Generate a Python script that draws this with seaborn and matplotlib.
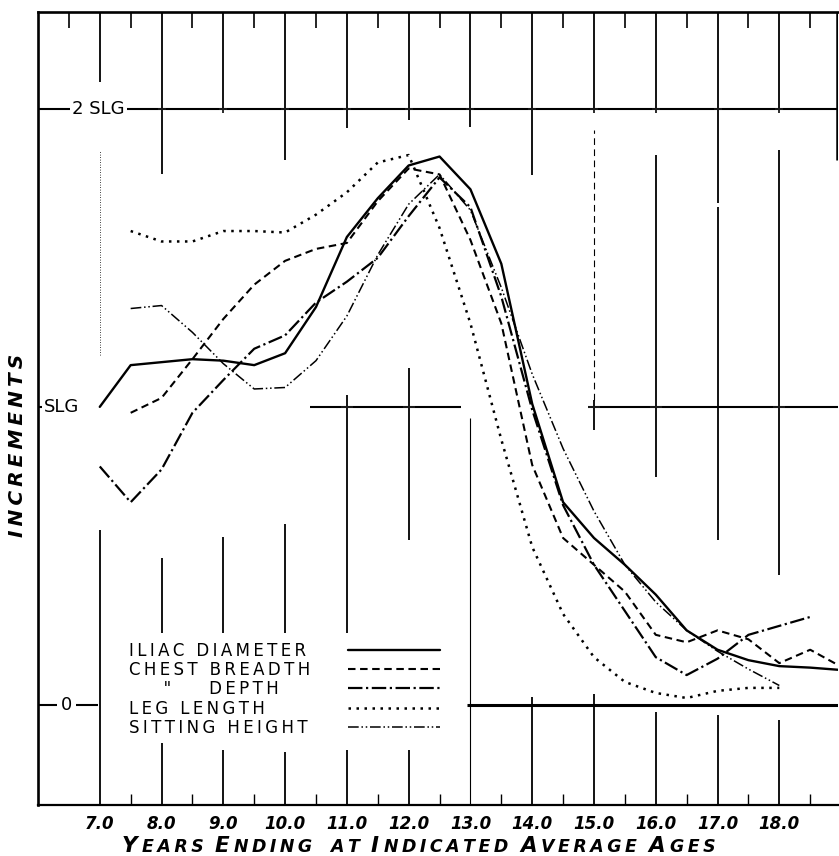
import pandas as pd
import matplotlib
matplotlib.use("Agg")
import matplotlib.pyplot as plt
import seaborn as sns
from matplotlib.offsetbox import TextArea, HPacker, AnnotationBbox

# half-year points (age at end of year), increments in SLG units
AGES = [7.0, 7.5, 8.0, 8.5, 9.0, 9.5, 10.0, 10.5, 11.0, 11.5, 12.0, 12.5, 13.0,
        13.5, 14.0, 14.5, 15.0, 15.5, 16.0, 16.5, 17.0, 17.5, 18.0, 18.5, 19.0]

ILIAC = [1.00, 1.14, 1.15, 1.16, 1.155, 1.14, 1.18, 1.335, 1.57, 1.70, 1.81, 1.84, 1.73,
         1.48, 1.01, 0.68, 0.56, 0.47, 0.37, 0.25, 0.185, 0.15, 0.13, 0.125, 0.117]
CHEST_BREADTH = [None, 0.98, 1.03, 1.16, 1.295, 1.41, 1.49, 1.53, 1.55, 1.69, 1.80, 1.78, 1.56,
                 1.28, 0.805, 0.56, 0.47, 0.38, 0.235, 0.21, 0.25, 0.22, 0.14, 0.185, 0.128]
CHEST_DEPTH = [0.80, 0.68, 0.79, 0.98, 1.09, 1.195, 1.24, 1.35, 1.42, 1.50, 1.64, 1.77, 1.67,
               1.37, 0.99, 0.67, 0.47, 0.315, 0.16, 0.10, 0.155, 0.235, 0.265, 0.295, None]
LEG_LENGTH = [None, 1.59, 1.555, 1.555, 1.59, 1.59, 1.585, 1.645, 1.72, 1.82, 1.845, 1.60, 1.28,
              0.89, 0.53, 0.305, 0.16, 0.077, 0.04, 0.023, 0.047, 0.057, 0.057, None, None]
SITTING_HEIGHT = [None, 1.33, 1.34, 1.25, 1.145, 1.06, 1.065, 1.155, 1.305, 1.51, 1.68, 1.78, 1.66,
                  1.40, 1.11, 0.86, 0.65, 0.47, 0.345, 0.25, 0.18, 0.12, 0.065, None, None]

MEASURES = ["ILIAC DIAMETER", "CHEST BREADTH", "CHEST DEPTH", "LEG LENGTH", "SITTING HEIGHT"]
LEGEND_LABELS = ["ILIAC DIAMETER", "CHEST BREADTH", '    "    DEPTH', "LEG LENGTH", "SITTING HEIGHT"]
YEAR_TICKS = [7, 8, 9, 10, 11, 12, 13, 14, 15, 16, 17, 18]
YEAR_LABELS = ["7.0", "8.0", "9.0", "10.0", "11.0", "12.0", "13.0", "14.0", "15.0", "16.0", "17.0", "18.0"]
XLABEL_WORDS = ["YEARS", "ENDING", "AT", "INDICATED", "AVERAGE", "AGES"]

DASHES = {
    "ILIAC DIAMETER": "",
    "CHEST BREADTH": (3.6, 2.2),
    "CHEST DEPTH": (6.5, 1.6, 1.0, 1.6),
    "LEG LENGTH": (1.0, 2.2),
    "SITTING HEIGHT": (7, 1.8, 1, 1.8, 1, 1.8),
}
WIDTHS = {"ILIAC DIAMETER": 1.7, "CHEST BREADTH": 1.5, "CHEST DEPTH": 1.6,
          "LEG LENGTH": 1.8, "SITTING HEIGHT": 1.1}

XMIN, XMAX = 6.0, 18.95
YMIN, YMAX = -0.336, 2.325
THIN = "\u2009"


def spaced(s):
    return THIN.join(s)


def build_frame():
    rows = []
    series = [ILIAC, CHEST_BREADTH, CHEST_DEPTH, LEG_LENGTH, SITTING_HEIGHT]
    for name, vals in zip(MEASURES, series):
        for age, v in zip(AGES, vals):
            if v is not None:
                rows.append((name, age, v))
    return pd.DataFrame(rows, columns=["measure", "age", "increment"])


def draw_grid(ax):
    k = dict(color="black", lw=1.3, zorder=1)
    # partial verticals at each year (scanned drafting grid)
    vsegs = {
        7: [(2.09, YMAX), (YMIN, 0.587)],
        8: [(1.782, YMAX), (0.242, 0.493), (YMIN, -0.128)],
        9: [(1.997, YMAX), (0.242, 0.564), (YMIN, -0.151)],
        10: [(1.829, YMAX), (0.242, 0.607), (YMIN, -0.158)],
        11: [(1.936, YMAX), (0.242, 1.04), (YMIN, -0.151)],
        12: [(1.963, YMAX), (0.554, 1.131), (YMIN, -0.151)],
        13: [(1.94, YMAX)],
        14: [(1.779, YMAX), (YMIN, 0.027)],
        15: [(1.997, YMAX), (0.923, 1.023), (YMIN, 0.037)],
        16: [(1.997, YMAX), (0.765, 1.846), (YMIN, -0.023)],
        17: [(1.685, YMAX), (0.554, 1.671), (YMIN, -0.034)],
        18: [(1.997, YMAX), (0.436, 1.862), (YMIN, -0.05)],
    }
    for yr, segs in vsegs.items():
        for y0, y1 in segs:
            ax.vlines(yr, y0, y1, **k)
    ax.vlines(13, YMIN, 0.963, color="black", lw=0.8, zorder=1)
    ax.vlines(15, 1.023, 1.93, color="black", lw=0.8, linestyles=[(0, (6, 4))], zorder=1)
    ax.vlines(7, 1.174, 1.862, color="black", lw=0.6, linestyles=[(0, (1, 2))], zorder=1)
    ax.vlines(XMAX - 0.01, 1.829, YMAX, color="black", lw=1.8, zorder=1)

    # half-year ticks top and bottom
    halves = [6.5 + i for i in range(13)]
    ax.vlines(halves, 2.272, YMAX, color="black", lw=1.2)
    ax.vlines(halves[1:], YMIN, -0.30, color="black", lw=1.0)

    # horizontal reference lines
    ax.hlines(2.0, XMIN, XMAX, color="black", lw=1.5, zorder=1)
    ax.hlines([1.0] * 3, [XMIN, 10.4, 14.9], [6.15, 12.85, XMAX], color="black", lw=1.5, zorder=1)
    ax.hlines([0.0] * 2, [XMIN, 6.62], [6.3, 6.97], color="black", lw=1.5, zorder=1)
    ax.hlines(0.0, 12.95, XMAX, color="black", lw=2.2, zorder=1)
    ax.plot([8, 9, 10, 11, 12, 13, 14, 15, 16, 17, 18], [2.0] * 11, "k+", ms=6, mew=1.3)
    ax.plot([11, 12, 15, 16, 18], [1.0] * 5, "k+", ms=9, mew=1.4)

    lab = dict(fontsize=13, color="black", va="center", zorder=3,
               bbox=dict(facecolor="white", edgecolor="none", pad=1.5))
    ax.text(6.98, 2.0, "2 SLG", ha="center", **lab)
    ax.text(6.1, 1.0, "SLG", ha="left", **lab)
    ax.text(6.46, 0.0, "0", ha="center", **lab)


def main():
    sns.set_theme(style="white", rc={"axes.edgecolor": "black", "text.color": "black",
                                     "xtick.color": "black", "axes.labelcolor": "black"})
    plt.rcParams["font.family"] = ["DejaVu Sans"]

    df = build_frame()
    fig = plt.figure(figsize=(8.39, 8.56), dpi=100)
    ax = fig.add_axes([38 / 839, 51 / 856, 800 / 839, 793 / 856])

    sns.lineplot(data=df, x="age", y="increment", hue="measure", style="measure", size="measure",
                 hue_order=MEASURES, style_order=MEASURES, size_order=MEASURES,
                 palette={m: "black" for m in MEASURES}, dashes=DASHES, sizes=WIDTHS,
                 estimator=None, ax=ax, zorder=2)

    draw_grid(ax)

    ax.set_xlim(XMIN, XMAX)
    ax.set_ylim(YMIN, YMAX)
    ax.set_xticks(YEAR_TICKS)
    ax.set_xticklabels(YEAR_LABELS, fontsize=12, fontweight="bold", fontstyle="italic")
    ax.tick_params(axis="x", length=0, pad=7)
    ax.set_yticks([])
    ax.set_xlabel("")
    ax.set_ylabel("")
    ax.spines["right"].set_visible(False)
    ax.spines["left"].set_linewidth(1.9)
    ax.spines["top"].set_linewidth(1.9)
    ax.spines["bottom"].set_linewidth(1.6)

    # legend: names left-aligned, line samples in a column to their right
    handles, labels = ax.get_legend_handles_labels()
    hmap = dict(zip(labels, handles))
    hs = [hmap[m] for m in MEASURES]
    leg_kw = dict(loc="upper left", frameon=False, fontsize=12, labelspacing=0.08,
                  borderpad=0, borderaxespad=0, handletextpad=0)
    ax.get_legend().remove()
    names = ax.legend(hs, [spaced(s) for s in LEGEND_LABELS], bbox_to_anchor=(0.114, 0.206),
                      handlelength=0, **leg_kw)
    for h in names.legend_handles:
        h.set_visible(False)
    ax.add_artist(names)
    ax.legend(hs, [" "] * 5, bbox_to_anchor=(0.3875, 0.206), handlelength=5.5, **leg_kw)

    # x label with enlarged initials
    tp_big = dict(fontsize=15.5, fontstyle="italic", fontweight="bold", color="black")
    tp_small = dict(fontsize=12.5, fontstyle="italic", fontweight="bold", color="black")
    parts = []
    for word in XLABEL_WORDS:
        if word == "AT":
            parts.append(TextArea(" " + spaced("AT") + "  ", textprops=tp_small))
            continue
        parts.append(TextArea(word[0] + THIN, textprops=tp_big))
        parts.append(TextArea(spaced(word[1:]) + "  ", textprops=tp_small))
    pack = HPacker(children=parts, align="baseline", pad=0, sep=0)
    ab = AnnotationBbox(pack, (0.506, 0.0115), xycoords="figure fraction",
                        frameon=False, box_alignment=(0.5, 0.5))
    fig.add_artist(ab)

    fig.text(0.021, 0.48, spaced("INCREMENTS"), rotation=90, ha="center", va="center",
             fontsize=14.5, fontstyle="italic", fontweight="bold")

    fig.savefig("out.png", dpi=100)
    plt.close(fig)


if __name__ == "__main__":
    main()
